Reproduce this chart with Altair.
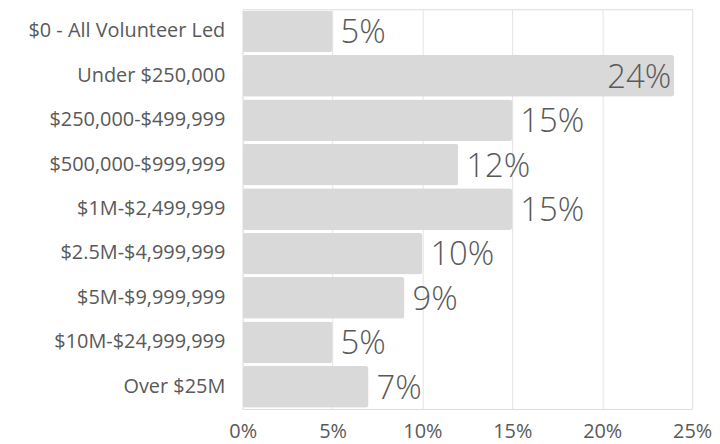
import altair as alt
import pandas as pd

categories = [
    "$0 - All Volunteer Led",
    "Under $250,000",
    "$250,000-$499,999",
    "$500,000-$999,999",
    "$1M-$2,499,999",
    "$2.5M-$4,999,999",
    "$5M-$9,999,999",
    "$10M-$24,999,999",
    "Over $25M",
]
shares = [0.05, 0.24, 0.15, 0.12, 0.15, 0.10, 0.09, 0.05, 0.07]
x_ticks = [0, 0.05, 0.10, 0.15, 0.20, 0.25]

df = pd.DataFrame({"category": categories, "share": shares})

FONT = "Open Sans"
TXT = "#595959"

y_enc = alt.Y(
    "category:N",
    sort=categories,
    title=None,
    scale=alt.Scale(paddingInner=0.06, paddingOuter=0.03),
    axis=alt.Axis(
        domain=False, ticks=False, labelFont=FONT, labelFontSize=20,
        labelColor=TXT, labelPadding=18, minExtent=236, maxExtent=236,
        labelLimit=300,
    ),
)
x_enc = alt.X(
    "share:Q",
    title=None,
    scale=alt.Scale(domain=[0, 0.25], nice=False),
    axis=alt.Axis(
        values=x_ticks, format=".0%", domain=False, ticks=False,
        labelFont=FONT, labelFontSize=20, labelColor=TXT, labelPadding=13,
        grid=True, gridColor="#e4e4e4", gridWidth=1, labelFlush=False,
    ),
)

bars = alt.Chart(df).mark_bar(color="#d9d9d9", cornerRadius=3).encode(x=x_enc, y=y_enc)

base_txt = alt.Chart(df).encode(
    x=alt.X("share:Q"), y=alt.Y("category:N", sort=categories),
    text=alt.Text("share:Q", format=".0%"),
)
txt_out = base_txt.transform_filter(alt.datum.share < 0.2).mark_text(
    align="left", baseline="middle", dx=8, dy=2, font=FONT, fontSize=33,
    fontWeight=300, color=TXT
)
txt_in = base_txt.transform_filter(alt.datum.share >= 0.2).mark_text(
    align="right", baseline="middle", dx=-3, dy=2, font=FONT, fontSize=33,
    fontWeight=300, color=TXT
)

chart = (
    alt.layer(bars, txt_out, txt_in)
    .properties(width=452, height=402, padding={"left": 0, "top": 0, "right": 0, "bottom": 4})
    .configure_view(stroke=None)
    .configure(background="white")
)

chart.save("out.html", embed_options={"renderer": "svg", "actions": False})
